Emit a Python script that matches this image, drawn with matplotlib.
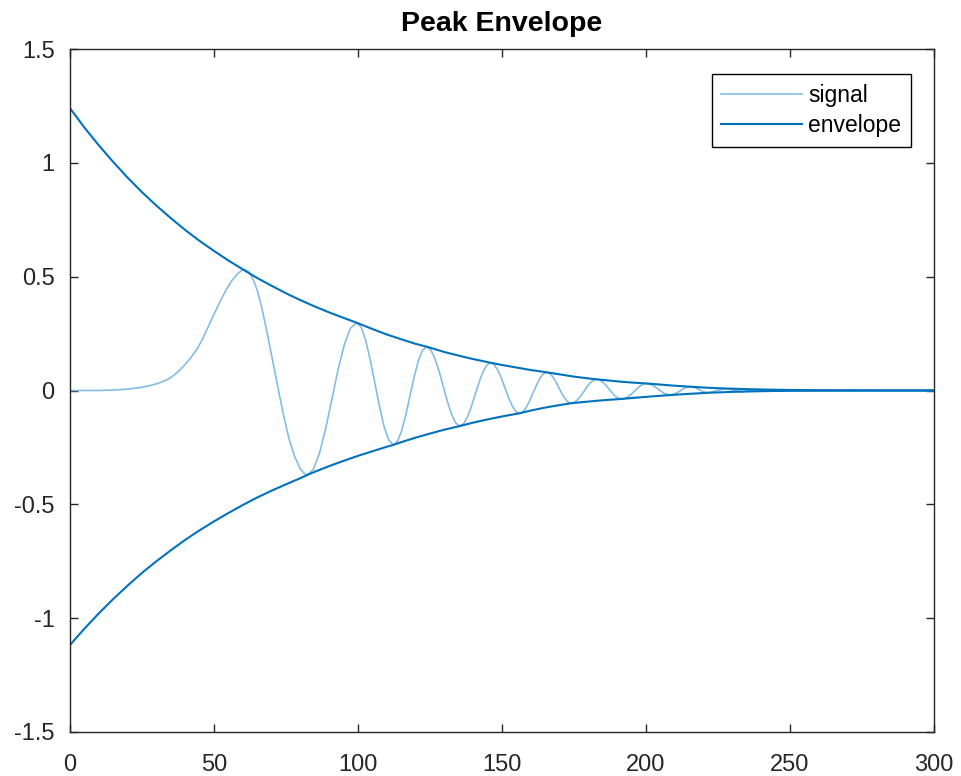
import matplotlib
matplotlib.use("Agg")
import matplotlib.pyplot as plt

# ---- data ----
signal_x = [0, 5, 10, 15, 20, 24, 28, 31, 34, 36, 38, 40, 42, 44, 46, 48, 50, 52, 54, 56, 58, 60.1,
            61, 62, 63, 64, 65, 66.4, 68, 70, 72, 74, 76, 78, 80, 81.3, 82.4,
            84.54, 86.68, 88.81, 90.95, 93.09, 95.23, 97.36, 99.5,
            101.1, 102.7, 104.3, 105.9, 107.5, 109.1, 110.7, 112.3,
            113.74, 115.18, 116.61, 118.05, 119.49, 120.93, 122.36, 123.8,
            125.25, 126.7, 128.15, 129.6, 131.05, 132.5, 133.95, 135.4,
            136.73, 138.05, 139.38, 140.7, 142.03, 143.35, 144.68, 146.0,
            147.26, 148.53, 149.79, 151.05, 152.31, 153.58, 154.84, 156.1,
            157.28, 158.45, 159.63, 160.8, 161.98, 163.15, 164.33, 165.5,
            166.56, 167.63, 168.69, 169.75, 170.81, 171.88, 172.94, 174.0,
            175.11, 176.23, 177.34, 178.45, 179.56, 180.68, 181.79, 182.9,
            183.99, 185.08, 186.16, 187.25, 188.34, 189.43, 190.51, 191.6,
            192.68, 193.75, 194.83, 195.9, 196.98, 198.05, 199.13, 200.2,
            202.23, 204.25, 206.28, 208.3,
            210.05, 211.8, 213.55, 215.3,
            216.9, 218.45, 220.0, 221.6,
            224.5, 227.5, 230.5, 233.5, 236, 239, 241.7, 244.5, 250, 260, 280, 300]
signal_y = [0, 0, 0, 0.002, 0.006, 0.012, 0.022, 0.033, 0.049, 0.066, 0.088, 0.115, 0.145, 0.180, 0.225,
            0.280, 0.335, 0.388, 0.437, 0.479, 0.511, 0.532,
            0.530, 0.521, 0.503, 0.476, 0.440, 0.375, 0.280, 0.155, 0.025, -0.100, -0.210, -0.290, -0.345,
            -0.364, -0.371,
            -0.346, -0.273, -0.165, -0.037, 0.092, 0.200, 0.273, 0.298,
            0.278, 0.219, 0.132, 0.030, -0.073, -0.160, -0.219, -0.239,
            -0.223, -0.176, -0.106, -0.024, 0.059, 0.129, 0.176, 0.192,
            0.179, 0.141, 0.085, 0.018, -0.049, -0.105, -0.143, -0.156,
            -0.145, -0.115, -0.070, -0.017, 0.036, 0.081, 0.111, 0.122,
            0.114, 0.090, 0.054, 0.011, -0.032, -0.068, -0.092, -0.100,
            -0.093, -0.074, -0.044, -0.010, 0.024, 0.054, 0.073, 0.080,
            0.075, 0.060, 0.038, 0.012, -0.014, -0.036, -0.051, -0.056,
            -0.052, -0.041, -0.024, -0.004, 0.017, 0.034, 0.045, 0.049,
            0.046, 0.036, 0.022, 0.005, -0.012, -0.026, -0.034, -0.037,
            -0.034, -0.028, -0.017, -0.004, 0.009, 0.021, 0.028, 0.031,
            0.024, 0.006, -0.0125, -0.020,
            -0.015, -0.002, 0.012, 0.017,
            0.0131, 0.0035, -0.006, -0.010,
            -0.001, 0.008, 0.0015, -0.005, -0.001, 0.003, 0.0005, -0.002, 0.001, 0, 0, 0]

env_up_x = [0, 5, 10, 15, 20, 25, 30, 35, 40, 45, 50, 55, 60, 65, 70, 75, 80, 85, 90, 95, 99.5,
            105, 110, 115, 120, 124, 130, 135, 140, 146, 150, 155, 160, 165.5, 170, 175, 180, 183,
            187, 191, 195, 200, 205, 210, 215, 220, 225, 230, 235, 240, 245, 250, 255, 260, 270, 280, 300]
env_up_y = [1.240, 1.155, 1.077, 1.004, 0.935, 0.871, 0.812, 0.757, 0.705, 0.657, 0.613, 0.571, 0.532,
            0.494, 0.460, 0.427, 0.397, 0.369, 0.343, 0.319, 0.298,
            0.270, 0.246, 0.225, 0.205, 0.192, 0.169, 0.153, 0.138, 0.122, 0.112, 0.101, 0.090, 0.080,
            0.071, 0.061, 0.053, 0.049, 0.044, 0.039, 0.035, 0.031, 0.026, 0.021, 0.017, 0.013, 0.010,
            0.008, 0.006, 0.0045, 0.0033, 0.0024, 0.0017, 0.0012, 0.0006, 0.0003, 0]

env_lo_x = [0, 5, 10, 15, 20, 25, 30, 35, 40, 45, 50, 55, 60, 65, 70, 75, 80, 82.4, 85, 90, 95, 100,
            105, 110, 112.3, 115, 120, 125, 130, 135.4, 140, 145, 150, 156.1, 160, 165, 170, 174, 178,
            183, 187, 191.6, 196, 200, 204, 208.3, 212, 216, 221.6, 226, 230, 235, 240, 245, 250, 260,
            270, 300]
env_lo_y = [-1.118, -1.046, -0.979, -0.916, -0.857, -0.801, -0.750, -0.702, -0.656, -0.614, -0.575,
            -0.538, -0.503, -0.470, -0.440, -0.412, -0.385, -0.371, -0.357, -0.332, -0.309, -0.287,
            -0.267, -0.247, -0.239, -0.227, -0.207, -0.189, -0.172, -0.156, -0.141, -0.127, -0.114,
            -0.100, -0.088, -0.075, -0.064, -0.056, -0.051, -0.045, -0.041, -0.037, -0.032, -0.028,
            -0.024, -0.020, -0.017, -0.014, -0.010, -0.008, -0.006, -0.0045, -0.003, -0.002, -0.0015,
            -0.0008, -0.0003, 0]

x_ticks = [0, 50, 100, 150, 200, 250, 300]
y_ticks = [-1.5, -1, -0.5, 0, 0.5, 1, 1.5]
y_tick_labels = ["-1.5", "-1", "-0.5", "0", "0.5", "1", "1.5"]

# ---- figure ----
W, H = 962, 776
fig = plt.figure(figsize=(W / 100, H / 100), dpi=100)
L, R, T, B = 70, 934, 49, 732
ax = fig.add_axes([L / W, (H - B) / H, (R - L) / W, (B - T) / H])

sig_color = "#84bce6"
env_color = "#0072BD"
ax.plot(signal_x, signal_y, color=sig_color, lw=1.2, label="signal")
ax.plot(env_up_x, env_up_y, color=env_color, lw=1.5, label="envelope")
ax.plot(env_lo_x, env_lo_y, color=env_color, lw=1.5)

ax.set_xlim(0, 300)
ax.set_ylim(-1.5, 1.5)
ax.set_xticks(x_ticks)
ax.set_yticks(y_ticks)
ax.set_yticklabels(y_tick_labels)

axc = "#262626"
for s in ax.spines.values():
    s.set_color(axc)
    s.set_linewidth(1.0)
ax.tick_params(direction="in", length=6, width=1.0, color=axc, top=True, right=True,
               labelsize=17, labelcolor=axc)
ax.tick_params(axis="x", pad=16)
ax.tick_params(axis="y", pad=11)
for lab in ax.get_xticklabels() + ax.get_yticklabels():
    lab.set_fontfamily("Liberation Sans")

ax.set_title("Peak Envelope", fontsize=20.5, fontweight="bold", family="Liberation Sans",
             color="black", pad=13)

leg = ax.legend(loc="upper right", bbox_to_anchor=((911 - L) / (R - L), (B - 74) / (B - T)),
                borderaxespad=0, fancybox=False, framealpha=1, edgecolor="black",
                prop={"family": "Liberation Sans", "size": 16.5}, handlelength=3.5,
                handletextpad=0.3, borderpad=0.42, labelspacing=0.33)
leg.get_frame().set_linewidth(1.0)

fig.savefig("out.png", dpi=100)
